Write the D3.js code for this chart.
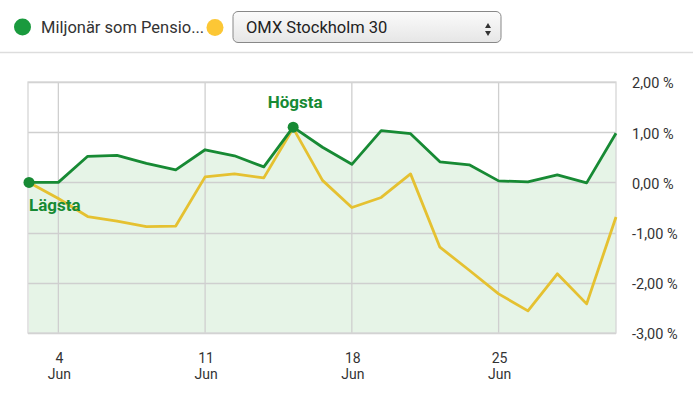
<!DOCTYPE html>
<html>
<head>
<meta charset="utf-8">
<script src="https://cdn.jsdelivr.net/npm/d3@7"></script>
<style>
  html, body { margin: 0; padding: 0; background: #fff; }
  svg { display: block; font-family: Roboto, "Noto Sans", sans-serif; }
</style>
</head>
<body>
<div id="main"></div>
<script>
"use strict";

// trading days shown on the chart (month, day)
const days = ["1 Jun", "4 Jun", "5 Jun", "6 Jun", "7 Jun", "8 Jun", "11 Jun", "12 Jun", "13 Jun", "14 Jun",
  "15 Jun", "18 Jun", "19 Jun", "20 Jun", "21 Jun", "22 Jun", "25 Jun", "26 Jun", "27 Jun", "28 Jun", "29 Jun"];
// days that get a tick + vertical grid line
const tickDays = ["4 Jun", "11 Jun", "18 Jun", "25 Jun"];

// percent change
const fundValues = [0.00, 0.00, 0.52, 0.54, 0.38, 0.25, 0.65, 0.53, 0.31, 1.10,
  0.70, 0.36, 1.03, 0.97, 0.41, 0.35, 0.03, 0.01, 0.15, -0.01, 0.98];
const indexValues = [0.00, -0.32, -0.68, -0.77, -0.88, -0.87, 0.11, 0.17, 0.09, 1.08,
  0.04, -0.50, -0.30, 0.17, -1.29, -1.75, -2.22, -2.56, -1.82, -2.42, -0.69];

const yTicks = [2, 1, 0, -1, -2, -3];

const fundName = "Miljonär som Pensio...";
const indexName = "OMX Stockholm 30";

const green = "#178a34";
const yellow = "#e5c131";

function draw() {
  const width = 693, height = 393;
  const svg = d3.select("#main").append("svg")
    .attr("width", width)
    .attr("height", height);

  // ---- header: legend + select box ----
  svg.append("circle").attr("cx", 22.5).attr("cy", 27).attr("r", 8.5).attr("fill", "#1a9a3e");
  svg.append("text")
    .attr("x", 41).attr("y", 33)
    .attr("font-size", 16.5).attr("fill", "#333")
    .text(fundName);
  svg.append("circle").attr("cx", 215).attr("cy", 27.5).attr("r", 8.5).attr("fill", "#fcc735");

  const grad = svg.append("defs").append("linearGradient")
    .attr("id", "selGrad").attr("x1", 0).attr("y1", 0).attr("x2", 0).attr("y2", 1);
  grad.append("stop").attr("offset", "0%").attr("stop-color", "#fbfbfb");
  grad.append("stop").attr("offset", "100%").attr("stop-color", "#e6e6e6");

  svg.append("rect")
    .attr("x", 233).attr("y", 11.5).attr("width", 268).attr("height", 31)
    .attr("rx", 5)
    .attr("fill", "url(#selGrad)").attr("stroke", "#888");
  svg.append("text")
    .attr("x", 246).attr("y", 33)
    .attr("font-size", 16.5).attr("fill", "#222")
    .text(indexName);
  // up/down arrows
  svg.append("path").attr("d", "M485,28 L491,28 L488,23 Z").attr("fill", "#333");
  svg.append("path").attr("d", "M485,31 L491,31 L488,36 Z").attr("fill", "#333");

  svg.append("line")
    .attr("x1", 0).attr("x2", width).attr("y1", 52.5).attr("y2", 52.5)
    .attr("stroke", "#ddd").attr("stroke-width", 1.5);

  // ---- chart ----
  const margin = { left: 29, right: 77, top: 82, bottom: 60 };
  const x = d3.scalePoint().domain(days).range([margin.left, width - margin.right]);
  const y = d3.scaleLinear().domain([-3, 2]).range([height - margin.bottom, margin.top]);

  const plotLeft = 28, plotRight = width - margin.right;

  const g = svg.append("g");

  // fill under the fund line
  const area = d3.area()
    .x((d, i) => x(days[i]))
    .y0(y(-3))
    .y1(d => y(d));
  g.append("path")
    .datum(fundValues)
    .attr("d", area)
    .attr("fill", "#e6f4e7");

  // grid
  g.append("g")
    .selectAll("line")
    .data(yTicks)
    .join("line")
    .attr("x1", plotLeft).attr("x2", plotRight)
    .attr("y1", d => Math.round(y(d)) + 0.5).attr("y2", d => Math.round(y(d)) + 0.5)
    .attr("stroke", "#cfcfcf").attr("stroke-width", 1.3);
  g.append("g")
    .selectAll("line")
    .data(tickDays)
    .join("line")
    .attr("x1", d => x(d)).attr("x2", d => x(d))
    .attr("y1", y(2)).attr("y2", y(-3))
    .attr("stroke", "#cfcfcf").attr("stroke-width", 1.3);
  g.append("rect")
    .attr("x", plotLeft).attr("y", y(2))
    .attr("width", plotRight - plotLeft).attr("height", y(-3) - y(2))
    .attr("fill", "none").attr("stroke", "#d6d6d6").attr("stroke-width", 1.3);

  // y axis (right)
  const fmt = d => d.toFixed(2).replace(".", ",") + " %";
  const yAxis = d3.axisRight(y).tickValues(yTicks).tickFormat(fmt).tickSize(0).tickPadding(0);
  const ya = svg.append("g").attr("transform", `translate(${plotRight + 16},0)`).call(yAxis);
  ya.select(".domain").remove();
  ya.attr("font-size", null).attr("font-family", null);
  ya.selectAll("text").attr("font-size", 14.5).attr("fill", "#333").attr("dy", "0.4em");

  // x axis (bottom, two-line labels)
  const xl = svg.append("g")
    .selectAll("text")
    .data(tickDays)
    .join("text")
    .attr("x", d => x(d))
    .attr("y", 363)
    .attr("text-anchor", "middle")
    .attr("font-size", 14)
    .attr("fill", "#333");
  xl.append("tspan").attr("x", d => x(d) + 1).text(d => d.split(" ")[0]);
  xl.append("tspan").attr("x", d => x(d) + 1).attr("dy", 16).text(d => d.split(" ")[1]);

  // lines
  const line = d3.line().x((d, i) => x(days[i])).y(d => y(d));
  g.append("path")
    .datum(indexValues)
    .attr("d", line)
    .attr("fill", "none").attr("stroke", yellow).attr("stroke-width", 2.8)
    .attr("stroke-linejoin", "round");
  g.append("path")
    .datum(fundValues)
    .attr("d", line)
    .attr("fill", "none").attr("stroke", green).attr("stroke-width", 2.8)
    .attr("stroke-linejoin", "round");

  // highest / lowest markers
  const maxI = d3.maxIndex(fundValues);
  const minI = 0;
  [maxI, minI].forEach(i => {
    g.append("circle")
      .attr("cx", x(days[i])).attr("cy", y(fundValues[i]))
      .attr("r", 5.5).attr("fill", green);
  });
  g.append("text")
    .attr("x", x(days[maxI]) + 2).attr("y", y(fundValues[maxI]) - 19)
    .attr("text-anchor", "middle")
    .attr("font-size", 17).attr("font-weight", "bold").attr("fill", green)
    .text("Högsta");
  g.append("text")
    .attr("x", x(days[minI])).attr("y", y(fundValues[minI]) + 29)
    .attr("font-size", 17).attr("font-weight", "bold").attr("fill", green)
    .text("Lägsta");
}

draw();
</script>
</body>
</html>
